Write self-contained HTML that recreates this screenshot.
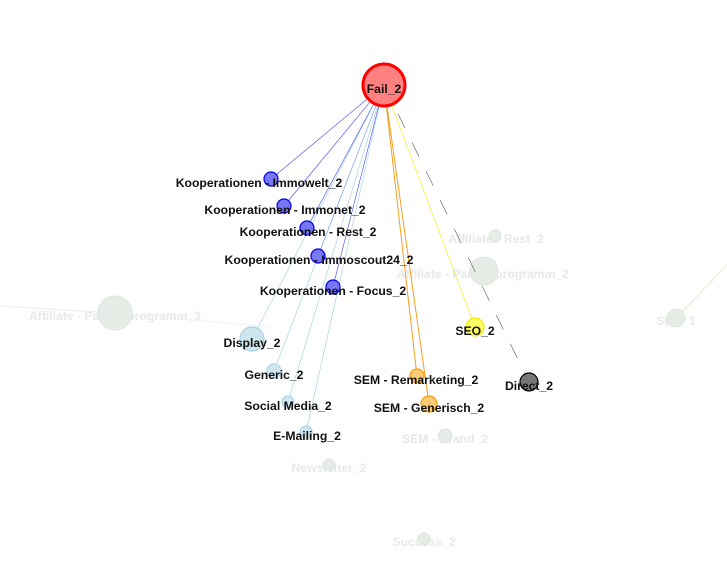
<!DOCTYPE html>
<html><head><meta charset="utf-8"><style>
html,body{margin:0;padding:0;background:#fff;}
svg{display:block;}
text{font-family:"Liberation Sans",sans-serif;font-weight:bold;font-size:12.2px;text-anchor:middle;}
</style></head><body>
<svg id="g" width="727" height="567"></svg>
<script>
const nodeNames=["Kooperationen - Immowelt_2","Kooperationen - Immonet_2","Kooperationen - Rest_2","Kooperationen - Immoscout24_2","Kooperationen - Focus_2","Display_2","Generic_2","Social Media_2","E-Mailing_2","SEM - Remarketing_2","SEM - Generisch_2","SEO_2","Direct_2"];
const nodeX=[271,284,307,318,333,252,274,288,306,417,429,475,529];
const nodeY=[179,206,228,256,287,339,371,402,432,376,404,327,382];
const nodeR=[7,7,7,7,7,12,7,6,6,7,8,9,9];
const nodeGroup=["koop","koop","koop","koop","koop","disp","disp","disp","disp","sem","sem","seo","direct"];
const labelX=[259,285,308,319,333,252,274,288,307,416,429,475,529];
const fadedNames=["Affiliate - Rest_2","Affiliate - Partnerprogramm_2","Affiliate - Partnerprogramm_3","SEO_1","SEM - Brand_2","Newsletter_2","Success_2"];
const fadedX=[495,484,115,676,445,329,424];
const fadedY=[236,271,313,318,436,465,539];
const fadedR=[6,14,17,9,7,6,6];
const fadedLabelX=[496,483,115,676,445,329,424];
const groupStyle={koop:["#7777f5","#0000ee","#4444f0"],disp:["#cfe6ee","#a8d4e6","#9ccde4"],sem:["#fccb77","#f5a000","#f5a020"],seo:["#ffff66","#eeee00","#eeee00"],direct:["#777","#000","#555"]};
const svg=document.getElementById('g');
const NS='http://www.w3.org/2000/svg';
function mk(t,a){const e=document.createElementNS(NS,t);for(const k in a)e.setAttribute(k,a[k]);svg.appendChild(e);return e;}
let fe=mk('line',{x1:0,y1:306,x2:115,y2:313,stroke:'#eef2ee','stroke-width':1.5});


fe=mk('line',{x1:115,y1:313,x2:270,y2:327,stroke:'#f0f3f0','stroke-width':1});


fe=mk('line',{x1:676,y1:318,x2:727,y2:265,stroke:'#eef0dc','stroke-width':1.5});


for(let i=0;i<fadedNames.length;i++){
  const c=mk('circle',{cx:fadedX[i],cy:fadedY[i],r:fadedR[i],fill:'#e6ece6',stroke:'#dde5dd','stroke-width':1});
  
  
  const t=mk('text',{x:fadedLabelX[i],y:fadedY[i]+7,fill:'#e6e9e6'});t.textContent=fadedNames[i];
  
  
}
const fx=384,fy=85;
for(let i=0;i<nodeNames.length;i++){
  const s=groupStyle[nodeGroup[i]];
  const a={x1:fx,y1:fy,x2:nodeX[i],y2:nodeY[i],stroke:s[2],'stroke-width':nodeGroup[i]==='sem'?1:0.6};
  if(nodeGroup[i]==='direct')a['stroke-dasharray']='16,16';
  const l=mk('line',a);
  
  
}
for(let i=0;i<nodeNames.length;i++){
  const s=groupStyle[nodeGroup[i]];
  const c=mk('circle',{cx:nodeX[i],cy:nodeY[i],r:nodeR[i],fill:s[0],stroke:s[1],'stroke-width':1.2});
  
  
}
for(let i=0;i<nodeNames.length;i++){
  const t=mk('text',{x:labelX[i],y:nodeY[i]+8,fill:'#111'});t.textContent=nodeNames[i];
  
  
}
const f=mk('circle',{cx:fx,cy:fy,r:21,fill:'#ff8080',stroke:'#ff0000','stroke-width':3});


const ft=mk('text',{x:fx,y:fy+8,fill:'#111'});ft.textContent='Fail_2';


</script>
</body></html>
